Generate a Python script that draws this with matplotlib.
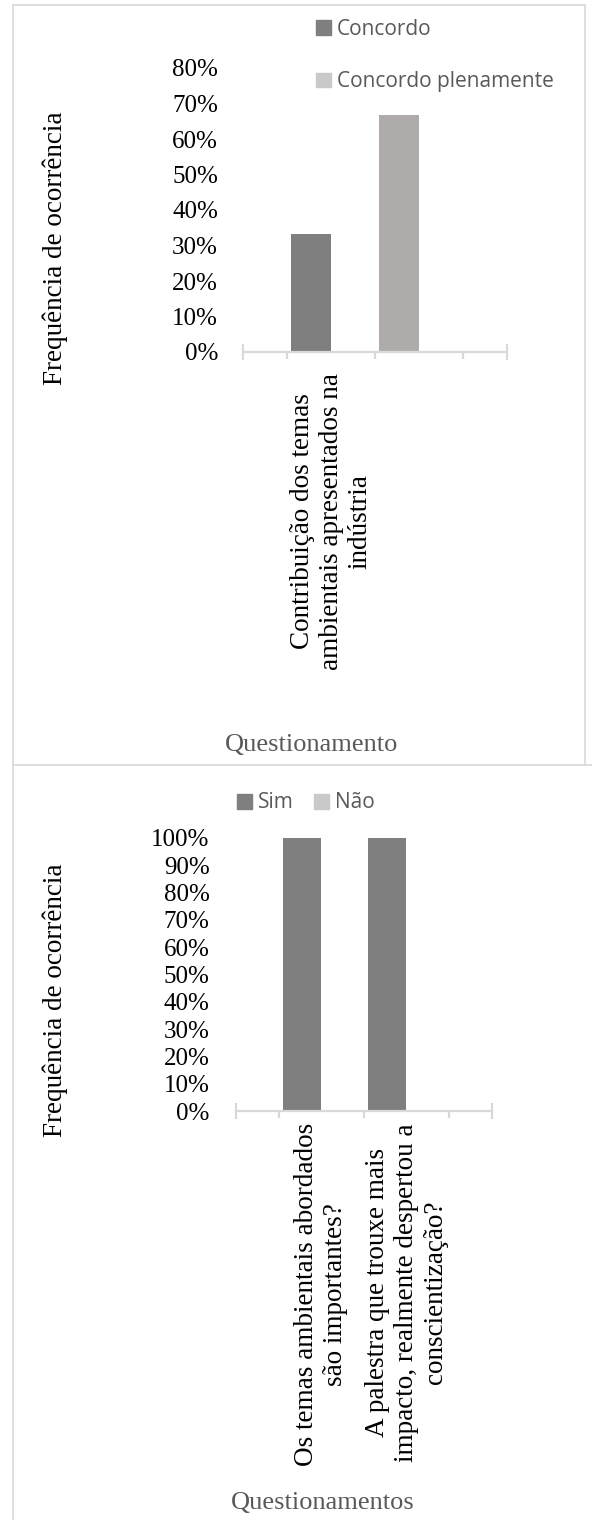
import matplotlib
matplotlib.use("Agg")
import matplotlib.pyplot as plt
from matplotlib.patches import Patch
from matplotlib.lines import Line2D
from matplotlib.ticker import PercentFormatter, FixedLocator

W, H = 592, 1520

# --- data, chart 1 ---
cats1 = ["Contribuição dos temas\nambientais apresentados na\nindústria"]
cat1_x = [1]
slots1 = [1, 2]
concordo = [0.333, 0.0]
concordo_plen = [0.0, 0.667]
yticks1 = [0.0, 0.1, 0.2, 0.3, 0.4, 0.5, 0.6, 0.7, 0.8]

# --- data, chart 2 ---
cats2 = ["Os temas ambientais abordados\nsão importantes?",
         "A palestra que trouxe mais\nimpacto, realmente despertou a\nconscientização?"]
cat2_x = [1, 2]
sim = [1.0, 1.0]
nao = [0.0, 0.0]
yticks2 = [0.0, 0.1, 0.2, 0.3, 0.4, 0.5, 0.6, 0.7, 0.8, 0.9, 1.0]

DARK = "#7f7f7f"
LIGHT = "#afabab"
LIGHT_LEG = "#c9c9c9"
GRID = "#d9d9d9"
TXT = "#595959"
SERIF = "Liberation Serif"
SANS = "Open Sans"
FS_TICK = 18
FS_LAB = 19.5
FS_TITLE = 19

plt.rcParams['font.family'] = [SERIF, 'DejaVu Sans']

fig = plt.figure(figsize=(W / 100, H / 100), dpi=100)


def fx(x):
    return x / W


def fy(y):
    return 1 - y / H


def make_axes(x0, x1, ytop, ybot):
    return fig.add_axes([fx(x0), fy(ybot), fx(x1) - fx(x0), fy(ytop) - fy(ybot)])


def style(ax, ymax, yticks, pad):
    ax.set_xlim(0, 3)
    ax.set_ylim(0, ymax)
    for s in ["top", "right", "left"]:
        ax.spines[s].set_visible(False)
    ax.spines["bottom"].set_color(GRID)
    ax.spines["bottom"].set_linewidth(1.6)
    ax.set_yticks(yticks)
    ax.yaxis.set_major_formatter(PercentFormatter(1.0, decimals=0))
    ax.tick_params(axis="y", length=0, labelsize=FS_TICK, pad=pad)
    ax.xaxis.set_major_locator(FixedLocator([0.5, 1.5, 2.5]))
    ax.xaxis.set_minor_locator(FixedLocator([0, 3]))
    ax.tick_params(axis="x", which="major", direction="out", length=5,
                   width=1.6, color=GRID, labelbottom=False)
    ax.tick_params(axis="x", which="minor", direction="inout", length=12,
                   width=1.6, color=GRID, labelbottom=False)
    ax.set_facecolor("none")


off = 0.23
bw = 0.45

# ---------- chart 1 ----------
ax1 = make_axes(243, 507, 68, 352)
style(ax1, 0.8, yticks1, 18)
ax1.bar([s - off for s in slots1], concordo, width=bw, color=DARK)
ax1.bar([s - off for s in slots1], concordo_plen, width=bw, color=LIGHT)
for x, lab in zip(cat1_x, cats1):
    ax1.text(x, -21 / 284 * 0.8 / 0.8, lab, transform=ax1.get_xaxis_transform(),
             rotation=90, ha="center", va="top", multialignment="center",
             fontsize=FS_LAB, linespacing=1.2)
ax1.legend(handles=[Patch(color=DARK, label="Concordo"),
                    Patch(color=LIGHT_LEG, label="Concordo plenamente")],
           loc="upper left", bbox_to_anchor=(fx(316), fy(19)),
           bbox_transform=fig.transFigure, frameon=False,
           prop={"family": SANS, "size": 15}, labelcolor=TXT,
           handlelength=0.7, handleheight=0.7, handletextpad=0.3,
           labelspacing=1.5, borderaxespad=0, borderpad=0)
fig.text(fx(55), fy(248), "Frequência de ocorrência", rotation=90,
         ha="center", va="center", fontsize=FS_LAB)
fig.text(fx(312), fy(745), "Questionamento", ha="center", va="center",
         fontsize=FS_TITLE, color=TXT)

# ---------- chart 2 ----------
ax2 = make_axes(236, 492, 838, 1111)
style(ax2, 1.0, yticks2, 19)
ax2.bar([c - off for c in cat2_x], sim, width=bw, color=DARK)
ax2.bar([c + off for c in cat2_x], nao, width=bw, color=LIGHT_LEG)
for x, lab in zip(cat2_x, cats2):
    ax2.text(x, -12 / 273, lab, transform=ax2.get_xaxis_transform(),
             rotation=90, ha="center", va="top", multialignment="center",
             fontsize=FS_LAB, linespacing=1.2)
ax2.legend(handles=[Patch(color=DARK, label="Sim"),
                    Patch(color=LIGHT_LEG, label="Não")],
           loc="center", bbox_to_anchor=(fx(306), fy(803)),
           bbox_transform=fig.transFigure, frameon=False, ncol=2,
           prop={"family": SANS, "size": 15}, labelcolor=TXT,
           handlelength=0.7, handleheight=0.7, handletextpad=0.3,
           columnspacing=1.0, borderaxespad=0, borderpad=0)
fig.text(fx(55), fy(1000), "Frequência de ocorrência", rotation=90,
         ha="center", va="center", fontsize=FS_LAB)
fig.text(fx(323), fy(1503), "Questionamentos", ha="center", va="center",
         fontsize=FS_TITLE, color=TXT)

# ---------- panel borders ----------
border = dict(color=GRID, linewidth=1.2, transform=fig.transFigure)
fig.add_artist(Line2D([fx(13), fx(585)], [fy(5), fy(5)], **border))
fig.add_artist(Line2D([fx(13), fx(13)], [fy(5), fy(1520)], **border))
fig.add_artist(Line2D([fx(585), fx(585)], [fy(5), fy(765)], **border))
fig.add_artist(Line2D([fx(13), fx(592)], [fy(765), fy(765)], **border))

fig.savefig("out.png", dpi=100, facecolor="white")
